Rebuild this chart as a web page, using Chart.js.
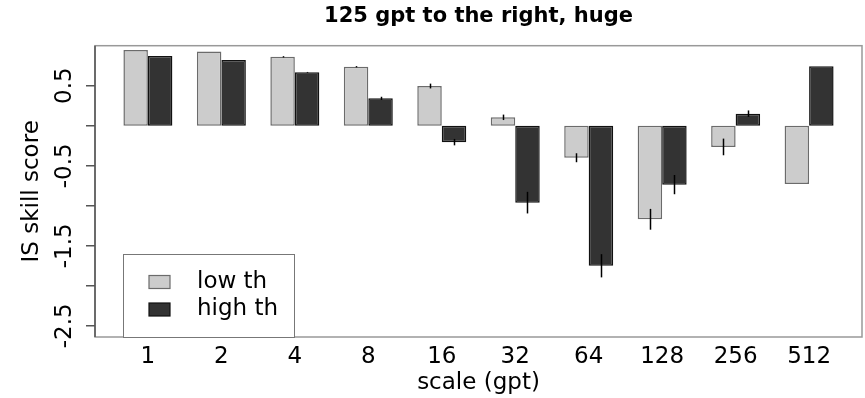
<!DOCTYPE html>
<html>
<head>
<meta charset="utf-8">
<script src="https://cdn.jsdelivr.net/npm/chart.js@4"></script>
<style>
  html, body { margin: 0; padding: 0; background: #ffffff; }
  #wrap { width: 865px; height: 398px; position: relative; }
</style>
</head>
<body>
<div id="wrap"><canvas id="c"></canvas></div>
<script>
// ---- data ----
const categories = ['1', '2', '4', '8', '16', '32', '64', '128', '256', '512'];
const seriesNames = ['low th', 'high th'];
const lowTh  = [0.945, 0.929, 0.861, 0.737, 0.496, 0.105, -0.400, -1.169, -0.265, -0.728];
const highTh = [0.870, 0.820, 0.667, 0.342, -0.205, -0.961, -1.750, -0.736, 0.151, 0.744];
const lowErr  = [0, 0, 0.008, 0.008, 0.03, 0.034, 0.056, 0.13, 0.104, 0];
const highErr = [0, 0, 0.005, 0.02, 0.04, 0.135, 0.145, 0.12, 0.04, 0];
const yTickValues = [0.5, 0, -0.5, -1, -1.5, -2, -2.5];
const yTickLabels = ['0.5', '', '-0.5', '', '-1.5', '', '-2.5'];
const titleText = '125 gpt to the right, huge';
const xTitle = 'scale (gpt)';
const yTitle = 'IS skill score';

const FONT = 'DejaVu Sans';
const errors = [lowErr, highErr];

const extrasPlugin = {
  id: 'extras',
  afterDatasetsDraw(chart) {
    const ctx = chart.ctx;
    const ys = chart.scales.y;
    ctx.save();
    ctx.strokeStyle = '#000';
    ctx.lineWidth = 1.5;
    chart.data.datasets.forEach((ds, di) => {
      const meta = chart.getDatasetMeta(di);
      meta.data.forEach((bar, j) => {
        const e = errors[di][j];
        if (!e) return;
        const v = ds.data[j].y;
        ctx.beginPath();
        ctx.moveTo(Math.round(bar.x) + 0.5, ys.getPixelForValue(v - e));
        ctx.lineTo(Math.round(bar.x) + 0.5, ys.getPixelForValue(v + e));
        ctx.stroke();
      });
    });
    ctx.restore();
  },
  afterDraw(chart) {
    const ctx = chart.ctx;
    const a = chart.chartArea;
    const ys = chart.scales.y;
    ctx.save();
    // frame
    ctx.strokeStyle = '#999';
    ctx.lineWidth = 1.5;
    ctx.strokeRect(a.left, a.top, a.right - a.left, a.bottom - a.top);
    // y axis line and tick marks
    ctx.strokeStyle = '#555';
    ctx.lineWidth = 1.5;
    ctx.beginPath();
    ctx.moveTo(a.left, a.top);
    ctx.lineTo(a.left, a.bottom);
    ys.ticks.forEach((t) => {
      const py = ys.getPixelForValue(t.value);
      ctx.moveTo(a.left - 9, py);
      ctx.lineTo(a.left, py);
    });
    ctx.stroke();
    // rotated y tick labels
    ctx.fillStyle = '#000';
    ctx.font = '23px "' + FONT + '"';
    ctx.textAlign = 'center';
    ctx.textBaseline = 'alphabetic';
    ys.ticks.forEach((t) => {
      if (!t.label) return;
      const py = ys.getPixelForValue(t.value);
      ctx.save();
      ctx.translate(a.left - 24, py);
      ctx.rotate(-Math.PI / 2);
      ctx.fillText(t.label, 0, 0);
      ctx.restore();
    });
    // legend
    const lx = a.left + 28, ly = a.bottom - 83, lw = 171, lh = 83;
    ctx.fillStyle = '#fff';
    ctx.fillRect(lx, ly, lw, lh);
    ctx.strokeStyle = '#777';
    ctx.lineWidth = 1;
    ctx.strokeRect(lx + 0.5, ly + 0.5, lw, lh);
    chart.data.datasets.forEach((ds, di) => {
      const cy = ly + 28 + di * 27.5;
      ctx.fillStyle = ds.backgroundColor;
      ctx.fillRect(lx + 26, cy - 6.5, 21, 13);
      ctx.strokeStyle = ds.borderColor;
      ctx.lineWidth = 1.2;
      ctx.strokeRect(lx + 26, cy - 6.5, 21, 13);
      ctx.fillStyle = '#000';
      ctx.font = '23px "' + FONT + '"';
      ctx.textAlign = 'left';
      ctx.textBaseline = 'middle';
      ctx.fillText(ds.label, lx + 74, cy);
    });
    ctx.restore();
  }
};

const toPts = arr => arr.map((v, i) => ({ x: i, y: v }));
const barStyle = { borderWidth: 1.5, borderSkipped: false, categoryPercentage: 2 / 3, barPercentage: 1.0, inflateAmount: 0 };

new Chart(document.getElementById('c'), {
  type: 'bar',
  data: {
    datasets: [
      Object.assign({ label: seriesNames[0], data: toPts(lowTh), backgroundColor: '#cccccc', borderColor: '#6b6b6b' }, barStyle),
      Object.assign({ label: seriesNames[1], data: toPts(highTh), backgroundColor: '#333333', borderColor: '#111111' }, barStyle)
    ]
  },
  options: {
    responsive: true,
    maintainAspectRatio: false,
    animation: false,
    devicePixelRatio: 1,
    layout: { padding: { left: 0, right: 3, top: 0, bottom: 0 } },
    plugins: {
      legend: { display: false },
      tooltip: { enabled: false },
      title: {
        display: true,
        text: titleText,
        fullSize: false,
        color: '#000',
        font: { family: FONT, size: 21, weight: 'bold', lineHeight: 1.2 },
        padding: { top: 4, bottom: 16.5 }
      }
    },
    scales: {
      x: {
        type: 'linear',
        min: -0.72,
        max: 9.72,
        offset: false,
        afterBuildTicks: s => { s.ticks = categories.map((c, i) => ({ value: i })); },
        afterFit: s => { s.height = 61; },
        grid: { display: false, drawTicks: false, offset: false },
        border: { display: false },
        ticks: {
          callback: v => categories[v],
          color: '#000',
          font: { family: FONT, size: 23 },
          padding: 6,
          maxRotation: 0,
          autoSkip: false
        },
        title: {
          display: true, text: xTitle, color: '#000',
          font: { family: FONT, size: 23 },
          padding: { top: 0, bottom: 1 }
        }
      },
      y: {
        min: -2.64,
        max: 1.0,
        afterBuildTicks: s => { s.ticks = yTickValues.map(v => ({ value: v })); },
        afterFit: s => { s.width = 95; },
        ticks: { display: false, callback: (v, i) => yTickLabels[i] },
        grid: { display: false },
        border: { display: false },
        title: {
          display: true, text: yTitle, color: '#000',
          font: { family: FONT, size: 23 },
          padding: { top: 18, bottom: 0 }
        }
      }
    }
  },
  plugins: [extrasPlugin]
});
</script>
</body>
</html>
